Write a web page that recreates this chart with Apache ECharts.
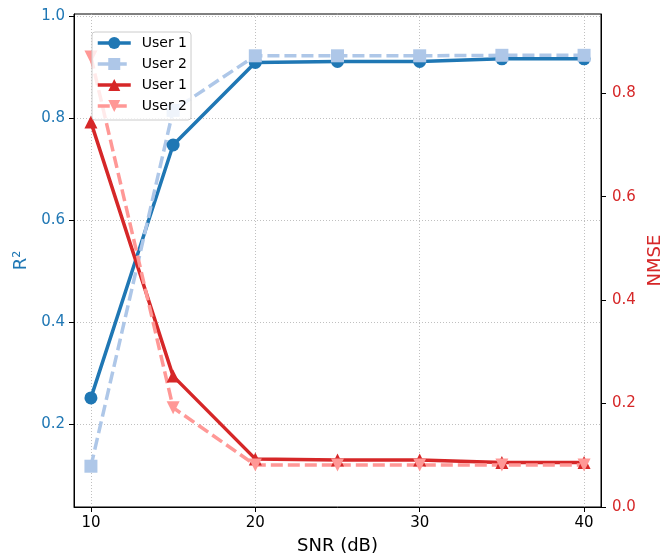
<!DOCTYPE html>
<html>
<head>
<meta charset="utf-8">
<script src="https://cdn.jsdelivr.net/npm/echarts@6/dist/echarts.min.js"></script>
<style>html,body{margin:0;padding:0;background:#fff}#c{width:670px;height:554px}</style>
</head>
<body>
<div id="c"></div>
<script>
const snr = [10, 15, 20, 25, 30, 35, 40];
const r2User1 = [0.251, 0.747, 0.909, 0.911, 0.911, 0.916, 0.916];
const r2User2 = [0.117, 0.815, 0.922, 0.922, 0.922, 0.923, 0.923];
const nmseUser1 = [0.744, 0.253, 0.093, 0.091, 0.091, 0.086, 0.086];
const nmseUser2 = [0.870, 0.192, 0.081, 0.081, 0.081, 0.081, 0.081];
const xTicks = [10, 20, 30, 40];
const r2Ticks = [0.2, 0.4, 0.6, 0.8, 1.0];
const nmseTicks = [0.0, 0.2, 0.4, 0.6, 0.8];

const pairs = (xs, ys) => xs.map((x, i) => [x, ys[i]]);
const FONT = 'DejaVu Sans';
const chart = echarts.init(document.getElementById('c'), null, {renderer: 'canvas'});

function lineSeries(name, data, color, symbol, yIndex, dashed, rotate) {
  return {
    name: name, type: 'line', yAxisIndex: yIndex, data: data,
    symbol: symbol, symbolSize: 13, symbolRotate: rotate || 0,
    showAllSymbol: true, animation: false,
    lineStyle: {color: color, width: 3.5, type: dashed ? [12, 5] : 'solid'},
    itemStyle: {color: color, borderWidth: 0},
    emphasis: {disabled: true}
  };
}

chart.setOption({
  animation: false,
  textStyle: {fontFamily: FONT},
  grid: {left: 74, right: 69, top: 14, bottom: 47, containLabel: false, outerBoundsMode: 'none',
         show: true, borderColor: '#000', borderWidth: 1, backgroundColor: 'transparent'},
  legend: {
    left: 92, top: 32, orient: 'vertical',
    itemWidth: 33, itemHeight: 15, itemGap: 7,
    padding: [4, 4, 7, 4],
    backgroundColor: 'rgba(255,255,255,0.8)', borderColor: '#cccccc', borderWidth: 1, borderRadius: 3,
    lineStyle: {width: 3.5},
    textStyle: {fontFamily: FONT, fontSize: 14, color: '#000', padding: [0, 0, 0, 6]},
    formatter: n => n.trim(),
    data: ['User 1', 'User 2', 'User 1 ', 'User 2 ']
  },
  xAxis: {
    type: 'value', min: 8.97, max: 41.03,
    name: 'SNR (dB)', nameLocation: 'middle', nameGap: 30,
    nameTextStyle: {fontSize: 18, color: '#000', fontFamily: FONT},
    axisLine: {lineStyle: {color: '#000', width: 1}},
    axisTick: {show: true, length: 5, inside: false, customValues: xTicks, lineStyle: {color: '#000'}},
    axisLabel: {customValues: xTicks, fontSize: 15, color: '#000', margin: 9, fontFamily: FONT},
    splitLine: {show: true, lineStyle: {color: '#b0b0b0', width: 0.8, type: [1, 2]}}
  },
  yAxis: [{
    type: 'value', min: 0.037, max: 1.004, position: 'left',
    name: 'R²', nameLocation: 'middle', nameGap: 44, nameRotate: 90,
    nameTextStyle: {fontSize: 18, color: '#1f77b4', fontFamily: FONT},
    axisLine: {show: true, lineStyle: {color: '#000', width: 1}},
    axisTick: {show: true, length: 5, customValues: r2Ticks, lineStyle: {color: '#000'}},
    axisLabel: {customValues: r2Ticks, fontSize: 15, color: '#1f77b4', margin: 9, fontFamily: FONT, formatter: v => v.toFixed(1)},
    splitLine: {show: true, lineStyle: {color: '#b0b0b0', width: 0.8, type: [1, 2]}}
  }, {
    type: 'value', min: 0, max: 0.953, position: 'right',
    name: 'NMSE', nameLocation: 'middle', nameGap: 37, nameRotate: 90,
    nameTextStyle: {fontSize: 18, color: '#d62728', fontFamily: FONT},
    axisLine: {show: true, lineStyle: {color: '#000', width: 1}},
    axisTick: {show: true, length: 5, customValues: nmseTicks, lineStyle: {color: '#000'}},
    axisLabel: {customValues: nmseTicks, fontSize: 15, color: '#d62728', margin: 11, fontFamily: FONT, formatter: v => v.toFixed(1)},
    splitLine: {show: false}
  }],
  series: [
    lineSeries('User 1', pairs(snr, r2User1), '#1f77b4', 'circle', 0, false),
    lineSeries('User 2', pairs(snr, r2User2), '#aec7e8', 'rect', 0, true),
    lineSeries('User 1 ', pairs(snr, nmseUser1), '#d62728', 'triangle', 1, false),
    lineSeries('User 2 ', pairs(snr, nmseUser2), '#ff9896', 'triangle', 1, true, 180)
  ]
});
</script>
</body>
</html>
